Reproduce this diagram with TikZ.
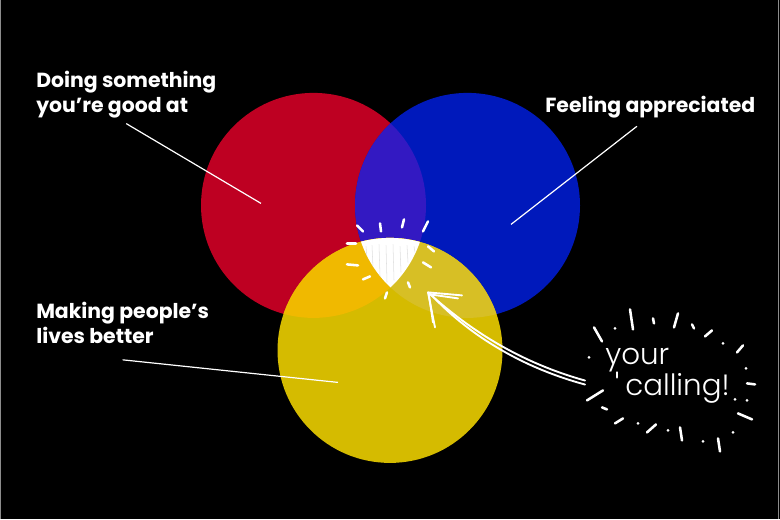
\documentclass[tikz,border=0pt]{standalone}
\usepackage{fontspec}
\setmainfont{Poppins}
\newfontfamily\handfont{Poppins Light}
\usetikzlibrary{calc}
\definecolor{RedClr}{HTML}{BE0022}
\definecolor{BlueClr}{HTML}{0019BB}
\definecolor{YellowClr}{HTML}{D5BB00}
\definecolor{PurpleClr}{HTML}{3319C2}
\definecolor{OrangeClr}{HTML}{F0B900}
\definecolor{PaleClr}{HTML}{D7BF25}

\begin{document}
\begin{tikzpicture}[x=0.75pt,y=-0.75pt,
  caption/.style={text=white,font=\bfseries\fontsize{15.3}{18.75}\selectfont,align=left,inner sep=0pt},
  hand/.style={text=white,font=\handfont\fontsize{22}{21}\selectfont,align=left,inner sep=0pt},
  pointer/.style={white,line width=0.9pt},
  ray/.style={white,line width=1.9pt,line cap=round},
  sketch/.style={white,line width=1.4pt,line cap=round,line join=round}]
\fill[black] (0,0) rectangle (780,519);
\draw[black!45,line width=0.6pt] (0.5,0) -- (0.5,519) (778.5,0) -- (778.5,519);

\coordinate (R) at (313.5,205);
\coordinate (B) at (467.5,205);
\coordinate (Y) at (390,350);
\def\rad{112.5}

\fill[RedClr] (R) circle (\rad);
\fill[BlueClr] (B) circle (\rad);
\begin{scope}
\clip (R) circle (\rad);
\fill[PurpleClr] (B) circle (\rad);
\end{scope}
\fill[YellowClr] (Y) circle (\rad);
\begin{scope}
\clip (R) circle (\rad);
\fill[OrangeClr] (Y) circle (\rad);
\end{scope}
\begin{scope}
\clip (B) circle (\rad);
\fill[PaleClr] (Y) circle (\rad);
\end{scope}
\begin{scope}
\clip (R) circle (\rad);
\clip (B) circle (\rad);
\fill[white] (Y) circle (\rad);
\foreach \a/\b/\c in {366/246/258,372/245/268,379/244/276,386/245/282,393/244/280,400/246/272,407/245/262,414/246/252}
  \draw[black!12,line width=0.4pt] (\a,\b) -- (\a+1,\c);
\end{scope}

\foreach \a/\b/\c/\d in {357/225/363/231,380/223/381/231,404/219/402/227,428/221/423/231,
  347/243/356/243,347/264/358/265,363/279/370/276,387/292/385/298,
  428/246/434/251,423/262/431/267,408/282/410/287}
  \draw[ray] (\a,\b) -- (\c,\d);

\node[caption,anchor=base west] (doing) at (36,112) {Doing something\\you’re good at};
\node[caption,anchor=base west] (feeling) at (545,112) {Feeling appreciated};
\node[caption,anchor=base west] (making) at (36,343) {Making people’s\\lives better};

\coordinate (doingEnd) at (261,203);
\coordinate (feelingEnd) at (511,224);
\coordinate (makingEnd) at (338,382);
\draw[pointer] ([yshift=-4pt]doing.south) -- (doingEnd);
\draw[pointer] ([xshift=-10pt,yshift=-6pt]feeling.south) -- (feelingEnd);
\draw[pointer] ([yshift=-12pt]making.south) -- (makingEnd);

\node[hand,anchor=base west] (calling) at (605,395) {your\\\hspace*{15pt}calling!};

\foreach \a/\b/\c/\d in {594/327/602/341,630/309/633/329,653/318/654/323,678/313/674/327,
  692/324/694/328,712/330/705/336,743/345/737/352,747/383/755/384,738/413/752/419,
  718/438/720/451,680/427/682/440,647/432/656/424,615/423/623/418,602/407/607/409,
  587/400/603/390,617/372/617/377}
  \draw[ray] (\a,\b) -- (\c,\d);
\foreach \a/\b in {615/328,723/343,746/368,589/357,735/399,747/400,733/432,703/441,668/430,638/423}
  \fill[white] (\a,\b) circle (1.5);

\coordinate (tip) at (428,292);
\coordinate (tail) at ($(calling.south west)+(-20,-23)$);
\draw[sketch] (tail) .. controls (520,362) and (470,330) .. (tip);
\draw[sketch] ($(tail)+(0,4)$) .. controls (518,366) and (466,332) .. ($(tip)+(2,1)$);
\draw[sketch] (tip) -- (462,295) (tip) -- (435,327);
\draw[sketch] ($(tip)+(2,2)$) -- (458,298) ($(tip)+(1,3)$) -- (433,322);
\end{tikzpicture}
\end{document}
